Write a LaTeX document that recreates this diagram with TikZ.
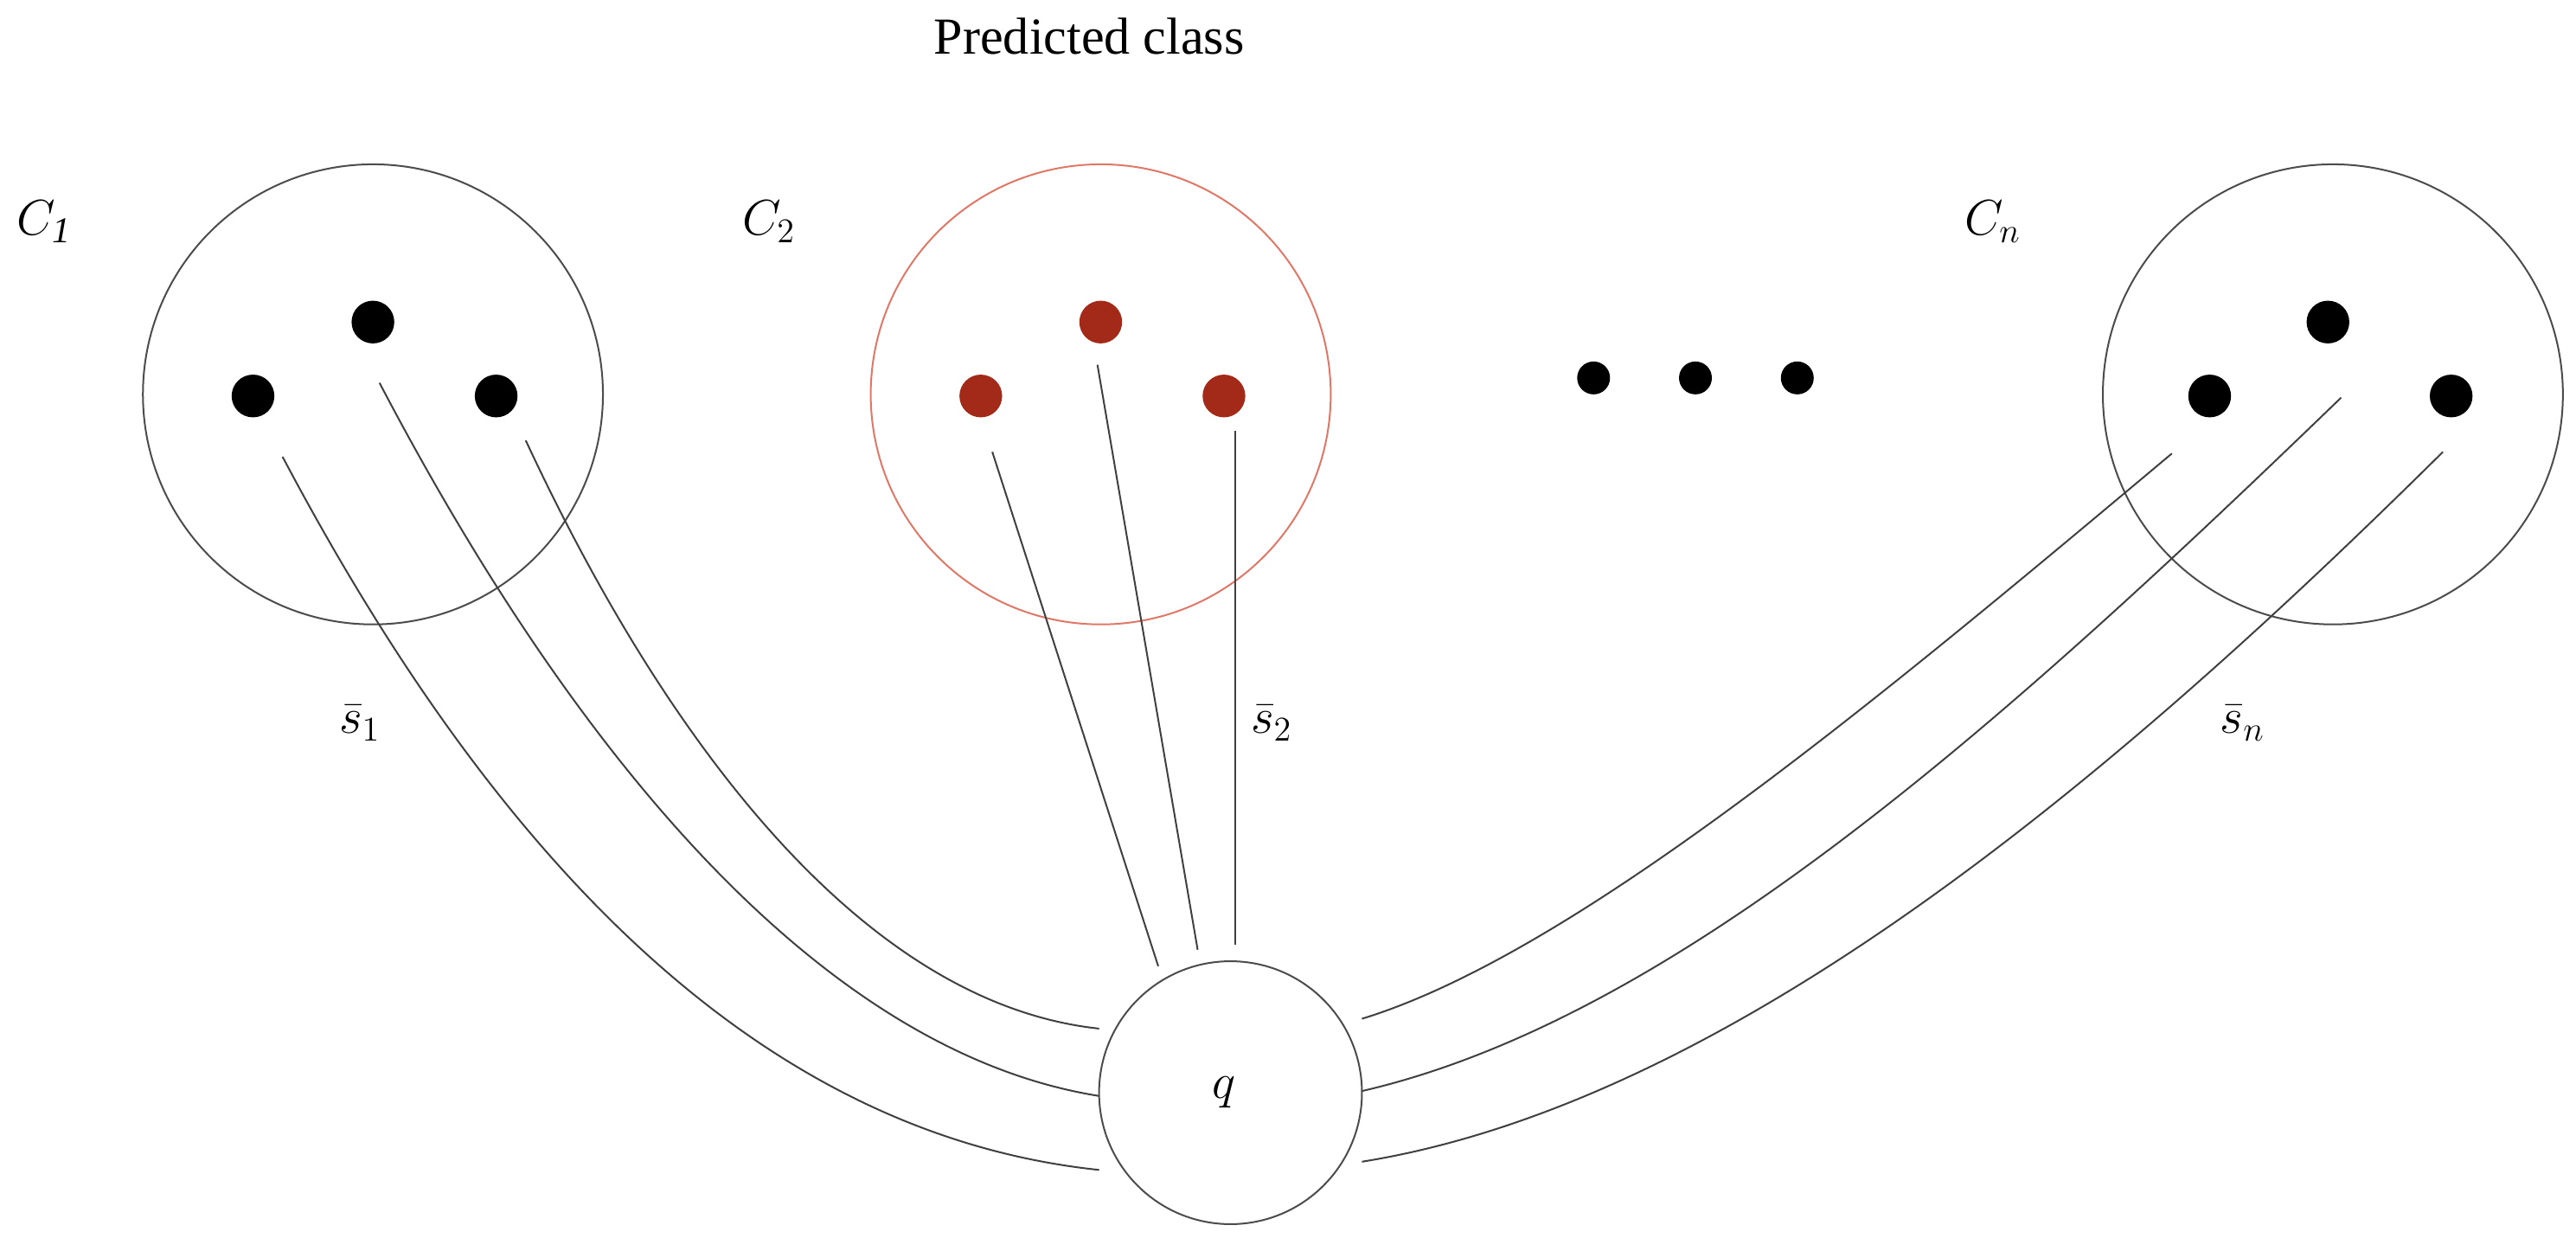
\documentclass[tikz,border=0pt]{standalone}
\usepackage{fontspec}
\setmainfont{Liberation Serif}
\begin{document}
\begin{tikzpicture}[x=0.02cm,y=-0.02cm,
  cls/.style={circle,draw=black!70,line width=0.6pt,minimum size=280*0.02cm,inner sep=0},
  dot/.style={circle,fill=black,minimum size=26*0.02cm,inner sep=0},
  rdot/.style={circle,fill=dotred,minimum size=26*0.02cm,inner sep=0},
  sdot/.style={circle,fill=black,minimum size=20*0.02cm,inner sep=0},
  lbl/.style={font=\fontsize{18}{20}\selectfont},
  ln/.style={draw=black!75,line width=0.6pt}]
\definecolor{dotred}{HTML}{A32A18}
\definecolor{circred}{HTML}{E07868}
\useasboundingbox (0,0) rectangle (1568,761);
\node[lbl] (title) at (663,22) {Predicted class};
\node[cls] (c1) at (227,240) {};
\node[cls,draw=circred] (c2) at (670,240) {};
\node[cls] (cn) at (1420,240) {};
\node[circle,draw=black!70,line width=0.6pt,minimum size=160*0.02cm,inner sep=0] (q) at (749,665) {};
\node[lbl] (ql) at (745,665) {$q$};
\node[lbl] (l1) at (27,135) {$C_{\mathit{1}}$};
\node[lbl] (l2) at (468,135) {$C_2$};
\node[lbl] (ln) at (1213,135) {$C_n$};
\node[lbl] (s1) at (219,440) {$\bar{s}_1$};
\node[lbl] (s2) at (774,440) {$\bar{s}_2$};
\node[lbl] (sn) at (1365,440) {$\bar{s}_n$};
\node[dot] (a1) at (154,241) {};
\node[dot] (a2) at (227,196) {};
\node[dot] (a3) at (302,241) {};
\node[rdot] (b1) at (597,241) {};
\node[rdot] (b2) at (670,196) {};
\node[rdot] (b3) at (745,241) {};
\node[dot] (d1) at (1345,241) {};
\node[dot] (d2) at (1417,196) {};
\node[dot] (d3) at (1492,241) {};
\node[sdot] (m1) at (970,230) {};
\node[sdot] (m2) at (1032,230) {};
\node[sdot] (m3) at (1094,230) {};
\coordinate (p1) at (172,278); \coordinate (p2) at (231,233); \coordinate (p3) at (320,268);
\coordinate (q1) at (669,712); \coordinate (q2) at (669,667); \coordinate (q3) at (669,626);
\coordinate (r1) at (604,275); \coordinate (r2) at (668,222); \coordinate (r3) at (752,262);
\coordinate (t1) at (705,588); \coordinate (t2) at (729,578); \coordinate (t3) at (752,575);
\coordinate (u1) at (1322,276); \coordinate (u2) at (1425,242); \coordinate (u3) at (1487,275);
\coordinate (v1) at (829,620); \coordinate (v2) at (829,664); \coordinate (v3) at (829,707);
\draw[ln] (p1) .. controls (300,520) and (460,690) .. (q1);
\draw[ln] (p2) .. controls (350,460) and (500,640) .. (q2);
\draw[ln] (p3) .. controls (400,440) and (520,610) .. (q3);
\draw[ln] (r1) -- (t1);
\draw[ln] (r2) -- (t2);
\draw[ln] (r3) -- (t3);
\draw[ln] (u1) .. controls (1150,420) and (960,580) .. (v1);
\draw[ln] (u2) .. controls (1220,440) and (1020,620) .. (v2);
\draw[ln] (u3) .. controls (1300,460) and (1060,670) .. (v3);
\end{tikzpicture}
\end{document}
